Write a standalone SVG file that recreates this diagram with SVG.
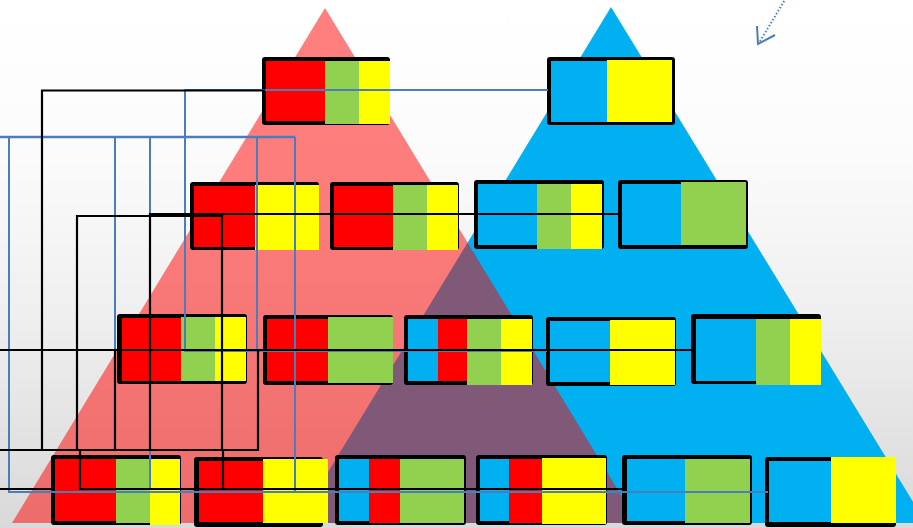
<svg xmlns="http://www.w3.org/2000/svg" width="913" height="528" viewBox="0 0 913 528">
<defs>
<linearGradient id="bg" x1="0" y1="0" x2="0" y2="1">
<stop offset="0" stop-color="#ffffff"/>
<stop offset="0.3" stop-color="#fbfbfb"/>
<stop offset="0.6" stop-color="#efefef"/>
<stop offset="1" stop-color="#d9d9d9"/>
</linearGradient>
<style>
.bd{fill:#000;}
.r{fill:#ff0000;}
.g{fill:#92d050;}
.y{fill:#ffff00;}
.b{fill:#00b0f0;}
.k{fill:none;stroke:#000;stroke-width:2.2;}
.u{fill:none;stroke:#4a7ebb;stroke-width:2;}
</style>
</defs>
<rect x="0" y="0" width="913" height="528" fill="url(#bg)"/>
<g id="pyramids">
<polygon points="611,7 297,523 926,523" fill="#00b0f0"/>
<polygon points="325,8 12,523 638,523" fill="#ff0000" fill-opacity="0.5"/>
</g>
<g id="n1"><rect class="bd" x="262" y="57" width="128" height="68" rx="3"/><rect class="r" x="266" y="61" width="59" height="60"/><rect class="g" x="325" y="61" width="34" height="63"/><rect class="y" x="359" y="61" width="31" height="63"/></g>
<g id="n2"><rect class="bd" x="547" y="57" width="128" height="68" rx="3"/><rect class="b" x="551" y="61" width="56" height="61"/><rect class="y" x="607" y="60" width="65" height="62"/></g>
<g id="n3"><rect class="bd" x="190" y="182" width="129" height="68" rx="3"/><rect class="r" x="194" y="186" width="61" height="61"/><rect class="y" x="255" y="185" width="64" height="65"/></g>
<g id="n4"><rect class="bd" x="330" y="182" width="129" height="68" rx="3"/><rect class="r" x="334" y="186" width="59" height="61"/><rect class="g" x="393" y="185" width="34" height="65"/><rect class="y" x="427" y="185" width="31" height="65"/></g>
<g id="n5"><rect class="bd" x="474" y="180" width="130" height="69" rx="3"/><rect class="b" x="478" y="184" width="59" height="61"/><rect class="g" x="537" y="184" width="34" height="65"/><rect class="y" x="571" y="184" width="31" height="65"/></g>
<g id="n6"><rect class="bd" x="618" y="180" width="130" height="69" rx="3"/><rect class="b" x="622" y="184" width="59" height="61"/><rect class="g" x="681" y="182" width="65" height="63"/></g>
<g id="n7"><rect class="bd" x="117" y="314" width="130" height="70" rx="3"/><rect class="r" x="122" y="318" width="59" height="63"/><rect class="g" x="181" y="317" width="34" height="64"/><rect class="y" x="215" y="317" width="31" height="64"/></g>
<g id="n8"><rect class="bd" x="263" y="315" width="130" height="70" rx="3"/><rect class="r" x="267" y="319" width="61" height="62"/><rect class="g" x="328" y="317" width="65" height="66"/></g>
<g id="n9"><rect class="bd" x="404" y="315" width="129" height="70" rx="3"/><rect class="b" x="408" y="319" width="30" height="62"/><rect class="r" x="438" y="319" width="29" height="62"/><rect class="g" x="467" y="319" width="34" height="66"/><rect class="y" x="501" y="319" width="31" height="66"/></g>
<g id="n10"><rect class="bd" x="546" y="317" width="130" height="69" rx="3"/><rect class="b" x="550" y="321" width="60" height="61"/><rect class="y" x="610" y="320" width="65" height="65"/></g>
<g id="n11"><rect class="bd" x="691" y="314" width="130" height="70" rx="3"/><rect class="b" x="696" y="319" width="60" height="62"/><rect class="g" x="756" y="319" width="34" height="66"/><rect class="y" x="790" y="319" width="31" height="66"/></g>
<g id="n12"><rect class="bd" x="51" y="455" width="130" height="70" rx="3"/><rect class="r" x="55" y="459" width="61" height="62"/><rect class="g" x="116" y="459" width="34" height="64"/><rect class="y" x="150" y="459" width="30" height="66"/></g>
<g id="n13"><rect class="bd" x="194" y="457" width="129" height="70" rx="3"/><rect class="r" x="199" y="461" width="64" height="61"/><rect class="y" x="263" y="459" width="65" height="64"/></g>
<g id="n14"><rect class="bd" x="335" y="455" width="131" height="70" rx="3"/><rect class="b" x="339" y="459" width="30" height="62"/><rect class="r" x="369" y="459" width="31" height="64"/><rect class="g" x="400" y="459" width="64" height="64"/></g>
<g id="n15"><rect class="bd" x="476" y="455" width="131" height="70" rx="3"/><rect class="b" x="480" y="459" width="29" height="62"/><rect class="r" x="509" y="459" width="33" height="64"/><rect class="y" x="542" y="458" width="64" height="66"/></g>
<g id="n16"><rect class="bd" x="622" y="455" width="130" height="70" rx="3"/><rect class="b" x="627" y="459" width="58" height="62"/><rect class="g" x="685" y="459" width="65" height="64"/></g>
<g id="n17"><rect class="bd" x="765" y="457" width="131" height="70" rx="3"/><rect class="b" x="769" y="461" width="62" height="61"/><rect class="y" x="831" y="457" width="65" height="66"/></g>
<g id="connectors">
<polyline class="u" points="548,90 185,90 185,351 547,351"/>
<polyline class="u" points="0,137 295,137" style="stroke-width:2.5"/>
<polyline class="u" points="9,137 9,492 768,492"/>
<polyline class="u" points="115,137 115,350"/>
<polyline class="u" points="150,137 150,490"/>
<polyline class="u" points="257,137 257,350"/>
<polyline class="u" points="295,137 295,491"/>
<polyline class="k" points="265,90.5 42,90.5 42,450"/>
<polyline class="k" points="0,450 258,450 258,350"/>
<polyline class="k" points="0,350 695,350"/>
<polyline class="k" points="115,350 115,450"/>
<polyline class="k" points="622,214 150,214 150,450"/>
<polyline class="k" points="77,450 77,216 222,216 222,450"/>
<polyline class="k" points="0,489 54,489"/>
<polyline class="k" points="80,450 80,489 623,489"/>
<polyline class="k" points="223,450 223,489"/>
<polyline class="u" points="786,-2 759,43" stroke-dasharray="1.5 2"/>
<polyline class="u" points="757,26 758,44 775,35"/>
</g>
</svg>
